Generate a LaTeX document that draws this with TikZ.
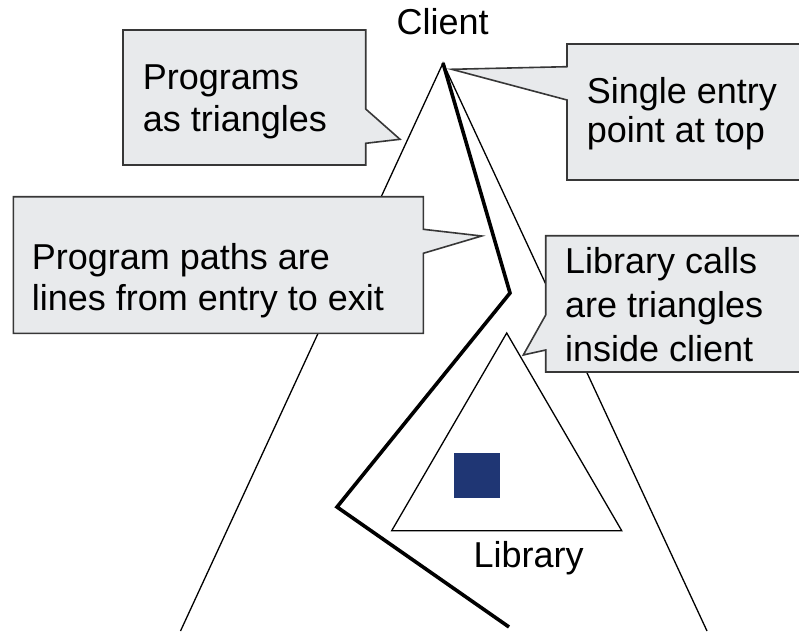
\documentclass[tikz,border=0pt]{standalone}
\usepackage{fontspec}
\setmainfont{Liberation Sans}
\usepackage{xcolor}

\definecolor{notefill}{RGB}{232,234,236}
\definecolor{noteline}{RGB}{55,55,55}
\definecolor{libblue}{RGB}{31,54,116}

\begin{document}
\begin{tikzpicture}[x=1pt, y=-1pt, line join=miter,
    edge/.style={line width=1.3pt},
    flow/.style={line width=3.6pt},
    note/.style={draw=noteline, fill=notefill, line width=1.6pt},
    notetext/.style={anchor=base west, inner sep=0pt, align=left,
      font=\fontsize{36}{41.5}\selectfont}]

    % page frame, everything outside is cut away
    \useasboundingbox (0,0) rectangle (799,631);
    \clip (0,0) rectangle (799,631);

    % Client triangle, its base runs off the page
    \coordinate (top) at (443,63);
    \coordinate (bl) at (180.5,631);
    \coordinate (br) at (707,631);
    \draw[edge] (bl) -- (top) -- (br);

    % one program path, entry at the top
    \coordinate (p1) at (510,293);
    \coordinate (p2) at (337,507);
    \coordinate (p3) at (509,627);
    \draw[flow] (top) -- (p1) -- (p2) -- (p3);

    % Library triangle with its block
    \coordinate (lt) at (506.7,333);
    \coordinate (ll) at (391.7,530.7);
    \coordinate (lr) at (621.7,530.7);
    \draw[edge] (lt) -- (ll) -- (lr) -- cycle;
    \fill[libblue] (454,453) rectangle (500,498);

    \node[notetext] (client) at (396.5,35) {Client};
    \node[notetext] (library) at (473.3,567.7) {Library};

    % callouts: box outline with the pointer cut into one side
    \draw[note] (123,30) -- (365.7,30) -- (365.7,109) -- (400,139.3)
      -- (365.7,143.3) -- (365.7,165) -- (123,165) -- cycle;
    \draw[note] (567,44) -- (830,44) -- (830,180) -- (567,180)
      -- (567,100) -- (451.7,69.3) -- (567,66.7) -- cycle;
    \draw[note] (13.3,196.7) -- (423.3,196.7) -- (423.3,229.3) -- (481.7,236)
      -- (423.3,253.3) -- (423.3,333.3) -- (13.3,333.3) -- cycle;
    \draw[note] (545.7,235.7) -- (830,235.7) -- (830,372) -- (545.7,372)
      -- (545.7,350) -- (523.3,355) -- (545.7,315) -- cycle;

    % texts sit on the baseline of their last line
    \node[notetext] (progs) at (142.7,131.5) {Programs\\as triangles};
    \node[notetext, font=\fontsize{36}{39}\selectfont] (entry) at (586.7,142.5)
      {Single entry\\point at top};
    \node[notetext, font=\fontsize{36}{41}\selectfont] (paths) at (31.7,310.3)
      {Program paths are\\lines from entry to exit};
    \node[notetext, font=\fontsize{36}{44}\selectfont] (calls) at (565,361.3)
      {Library calls\\are triangles\\inside client};

\end{tikzpicture}
\end{document}
